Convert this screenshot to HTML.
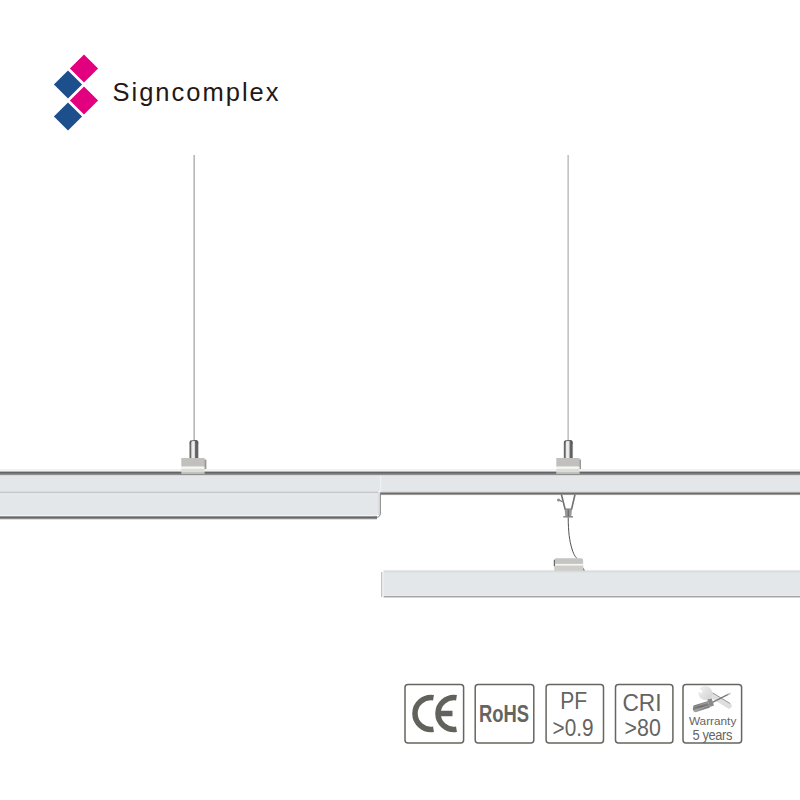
<!DOCTYPE html>
<html><head><meta charset="utf-8">
<style>
html,body{margin:0;padding:0;background:#fff;width:800px;height:800px;overflow:hidden}
svg{display:block;position:absolute;left:0;top:0}
text{font-family:"Liberation Sans",sans-serif}
</style></head>
<body>
<svg width="800" height="800" viewBox="0 0 800 800">
<defs>
  <linearGradient id="barR" gradientUnits="userSpaceOnUse" x1="0" y1="469" x2="0" y2="495">
    <stop offset="0" stop-color="#f3f4f5"/>
    <stop offset="0.08" stop-color="#eceef0"/>
    <stop offset="0.12" stop-color="#8e8e8e"/>
    <stop offset="0.16" stop-color="#5c5c5c"/>
    <stop offset="0.21" stop-color="#8a8a8a"/>
    <stop offset="0.25" stop-color="#e3e5e7"/>
    <stop offset="0.86" stop-color="#e5e7e9"/>
    <stop offset="0.9" stop-color="#eff0f1"/>
    <stop offset="0.94" stop-color="#6e6e6e"/>
    <stop offset="1" stop-color="#a6a6a6"/>
  </linearGradient>
  <linearGradient id="barL" gradientUnits="userSpaceOnUse" x1="0" y1="469" x2="0" y2="518.5">
    <stop offset="0" stop-color="#f3f4f5"/>
    <stop offset="0.04" stop-color="#eceef0"/>
    <stop offset="0.06" stop-color="#8e8e8e"/>
    <stop offset="0.08" stop-color="#5c5c5c"/>
    <stop offset="0.11" stop-color="#8a8a8a"/>
    <stop offset="0.13" stop-color="#e3e5e7"/>
    <stop offset="0.445" stop-color="#e5e7e9"/>
    <stop offset="0.46" stop-color="#c9cacc"/>
    <stop offset="0.47" stop-color="#cdced0"/>
    <stop offset="0.485" stop-color="#e4e6e8"/>
    <stop offset="0.93" stop-color="#e5e7e9"/>
    <stop offset="0.945" stop-color="#eff0f1"/>
    <stop offset="0.97" stop-color="#6a6a6a"/>
    <stop offset="1" stop-color="#b0b0b0"/>
  </linearGradient>
  <linearGradient id="bar2" gradientUnits="userSpaceOnUse" x1="0" y1="570" x2="0" y2="597.8">
    <stop offset="0" stop-color="#e6e7e9"/>
    <stop offset="0.05" stop-color="#d9dadd"/>
    <stop offset="0.09" stop-color="#e4e6e9"/>
    <stop offset="0.9" stop-color="#e5e7ea"/>
    <stop offset="0.93" stop-color="#eceef0"/>
    <stop offset="0.96" stop-color="#a4a5a7"/>
    <stop offset="1" stop-color="#c8c9ca"/>
  </linearGradient>
  <linearGradient id="cyl" x1="0" y1="0" x2="1" y2="0">
    <stop offset="0" stop-color="#9a9a9a"/>
    <stop offset="0.1" stop-color="#5c5c5c"/>
    <stop offset="0.2" stop-color="#8e8e8e"/>
    <stop offset="0.26" stop-color="#e6e6e4"/>
    <stop offset="0.48" stop-color="#f2f2f0"/>
    <stop offset="0.6" stop-color="#c6c6c4"/>
    <stop offset="0.66" stop-color="#6c6c6c"/>
    <stop offset="0.86" stop-color="#5a5a5a"/>
    <stop offset="0.95" stop-color="#a0a0a0"/>
    <stop offset="1" stop-color="#c8c8c8"/>
  </linearGradient>
</defs>

<!-- logo -->
<polygon points="84,54.4 98.1,68.5 84,82.6 69.9,68.5" fill="#e3007f"/>
<polygon points="68,70.4 82.1,84.5 68,98.6 53.9,84.5" fill="#1c4f8b"/>
<polygon points="84,86.4 98.1,100.5 84,114.6 69.9,100.5" fill="#e3007f"/>
<polygon points="68,102.4 82.1,116.5 68,130.6 53.9,116.5" fill="#1c4f8b"/>
<text x="112.5" y="100.8" font-size="25.5" fill="#231815" letter-spacing="2.0">Signcomplex</text>

<!-- wires -->
<rect x="193" y="155" width="1" height="286" fill="#d2d2d2"/><rect x="194" y="155" width="1" height="286" fill="#b8b8b8"/>
<rect x="567" y="155" width="1" height="286" fill="#d8d8d8"/><rect x="568" y="155" width="1" height="286" fill="#c4c4c4"/>

<!-- top bar -->
<rect x="0" y="469" width="800" height="1" fill="#eff0f2"/>
<rect x="0" y="470" width="800" height="1" fill="#f3f4f6"/>
<rect x="0" y="471" width="800" height="1" fill="#b8b8b9"/>
<rect x="0" y="472" width="800" height="1" fill="#646464"/>
<rect x="0" y="473" width="800" height="1" fill="#797979"/>
<rect x="0" y="474" width="800" height="1" fill="#8e8e8e"/>
<rect x="0" y="475" width="800" height="1" fill="#d8d9dc"/>
<rect x="0" y="476" width="800" height="15" fill="#e3e7ea"/>
<rect x="380" y="491" width="420" height="1" fill="#dcdcdf"/>
<rect x="380" y="492" width="420" height="1" fill="#a4a4a4"/>
<rect x="380" y="493" width="420" height="1" fill="#6b6b6b"/>
<rect x="380" y="494" width="420" height="1" fill="#999999"/>
<rect x="380" y="495" width="420" height="1" fill="#f8f8f8"/>
<rect x="0" y="490" width="378.5" height="1" fill="#e4e7ea"/>
<rect x="0" y="491" width="378.5" height="1" fill="#d9dadc"/>
<rect x="0" y="492" width="378.5" height="1" fill="#c8c8ca"/>
<rect x="0" y="493" width="378.5" height="1" fill="#e2e4e7"/>
<rect x="0" y="494" width="378.5" height="1" fill="#e6e9ec"/>
<rect x="0" y="514" width="378.5" height="1" fill="#e6e9ec"/>
<rect x="0" y="515" width="377" height="1" fill="#f1f2f5"/>
<rect x="0" y="516" width="377" height="1" fill="#9a9a9a"/>
<rect x="0" y="517" width="377" height="1" fill="#646464"/>
<rect x="0" y="518" width="377" height="1" fill="#8e8e8e"/>
<rect x="0" y="519" width="377" height="1" fill="#e0e0e0"/>
<rect x="0" y="495" width="378.5" height="19" fill="#e3e7ea"/>
<rect x="0" y="490" width="378.5" height="1" fill="#e4e7ea"/>
<rect x="380.2" y="475.5" width="1" height="16" fill="#f2f3f5"/>
<rect x="378" y="492" width="2.2" height="23" fill="#dcdde0"/>

<path d="M376,517.4 Q380.4,517.4 380.4,513 V494" stroke="#8a8a8a" stroke-width="1" fill="none"/><path d="M374,517.4 H377" stroke="#707070" stroke-width="1.6"/>

<!-- clamps on top bar -->
<g id="clamp1">
  <path d="M189.3,458 V443.2 Q189.3,440 192.5,440 H195.5 Q198.7,440 198.7,443.2 V458 Z" fill="url(#cyl)"/><path d="M190,443.5 Q190.3,440.6 192.6,440.6 H195.4 Q197.8,440.6 198,443.5" stroke="#555" stroke-width="0.9" fill="none"/>
  <rect x="204" y="459.5" width="2.4" height="9.5" fill="#9a9996"/>
  <rect x="181.3" y="458" width="23.3" height="8.7" fill="#c1c0bc"/>
  <rect x="181.3" y="466.7" width="23.3" height="2.1" fill="#f6f6f4"/>
  <rect x="181.3" y="468.8" width="23.3" height="4" fill="#dcdcd8"/>
  <rect x="181.3" y="472.8" width="23.3" height="1.2" fill="#bdbdb9"/>
</g>
<g>
  <path d="M563.7,458 V443.2 Q563.7,440 566.9,440 H569.9 Q573.1,440 573.1,443.2 V458 Z" fill="url(#cyl)"/><path d="M564.4,443.5 Q564.7,440.6 567,440.6 H569.8 Q572.2,440.6 572.4,443.5" stroke="#555" stroke-width="0.9" fill="none"/>
  <rect x="578.6" y="459.5" width="2.4" height="9.5" fill="#9a9996"/>
  <rect x="556.3" y="458" width="23.3" height="8.7" fill="#c1c0bc"/>
  <rect x="556.3" y="466.7" width="23.3" height="2.1" fill="#f6f6f4"/>
  <rect x="556.3" y="468.8" width="23.3" height="4" fill="#dcdcd8"/>
  <rect x="556.3" y="472.8" width="23.3" height="1.2" fill="#bdbdb9"/>
</g>

<!-- V bracket + wire -->
<path d="M561.4,494.5 L565.2,509.5 M575,494.5 L571.5,509.5" stroke="#727272" stroke-width="1.6" fill="none"/>
<path d="M562.4,501.8 L559.5,500.2" stroke="#777" stroke-width="1.3" fill="none"/><circle cx="558.6" cy="500" r="1.6" fill="#8e8e8e"/>
<path d="M564.6,508.8 H572 L571.3,516.5 H565.3 Z" fill="#999"/><rect x="567.6" y="510" width="1.5" height="7" fill="#707070"/><path d="M564.6,509 H572" stroke="#777" stroke-width="0.8"/>
<rect x="563.3" y="516.2" width="9.7" height="1.3" fill="#7a7a7a"/>
<path d="M568.2,517.5 C568.3,532 569.5,541 572,549 S575.5,556 576.8,558.5" stroke="#3c3c3c" stroke-width="0.9" fill="none"/>

<!-- lower bar -->
<rect x="383.5" y="569" width="416.5" height="1" fill="#fbfbfb"/>
<rect x="383.5" y="570" width="416.5" height="1" fill="#ebebed"/>
<rect x="383.5" y="571" width="416.5" height="1" fill="#d8dadd"/>
<rect x="383.5" y="572" width="416.5" height="1" fill="#e0e3e6"/>
<rect x="383.5" y="595" width="416.5" height="1" fill="#eaebee"/>
<rect x="383.5" y="596" width="416.5" height="1" fill="#a3a4a7"/>
<rect x="383.5" y="597" width="416.5" height="1" fill="#d5d5d6"/>
<rect x="383.5" y="573" width="416.5" height="22" fill="#e3e7ea"/>
<rect x="381" y="572" width="2.8" height="25" fill="#e9eaec"/>
<rect x="381" y="572" width="0.8" height="25" fill="#b9babc"/>

<!-- lower clamp -->
<path d="M554.5,570.6 V560 Q554.5,558.3 556.2,558.3 H581.4 Q583.1,558.3 583.1,560 V570.6 Z" fill="#c4c4c2"/>
<rect x="554.5" y="563.9" width="28.6" height="1.9" fill="#f6f6f5"/>
<rect x="554.5" y="565.8" width="28.6" height="4.8" fill="#cfcdca"/>
<path d="M583.1,567.5 L585,570.6 H583.1 Z" fill="#7a7a7a"/>
<rect x="553.8" y="559.8" width="1.1" height="6.4" fill="#5a5a5a"/>
<!-- badges -->
<g fill="none" stroke="#66655f" stroke-width="1.5">
  <rect x="405" y="684.6" width="58.6" height="58.4" rx="3"/>
  <rect x="475.2" y="684.6" width="58.6" height="58.4" rx="3"/>
  <rect x="546.1" y="684.6" width="57.4" height="58.4" rx="3"/>
  <rect x="615.5" y="684.6" width="57.4" height="58.4" rx="3"/>
  <rect x="683" y="684.6" width="58.6" height="58.4" rx="3"/>
</g>
<!-- CE -->
<g fill="none" stroke="#62625c" stroke-width="5.5">
  <path d="M433.5,697.7 A16,16 0 1 0 433.5,729.3"/>
  <path d="M456.5,697.7 A16,16 0 1 0 456.5,729.3"/>
  <path d="M440,713.5 H452.5"/>
</g>
<g fill="#65645f">
<text id="t_rohs" x="504" y="722" font-size="23" font-weight="bold" text-anchor="middle" transform="translate(504 0) scale(0.8 1) translate(-504 0)">RoHS</text>
<text id="t_pf" x="573.7" y="708.9" font-size="24" text-anchor="middle" transform="translate(573.7 0) scale(0.88 1) translate(-573.7 0)">PF</text>
<text id="t_pf2" x="573" y="736" font-size="24" text-anchor="middle" transform="translate(573 0) scale(0.865 1) translate(-573 0)">&gt;0.9</text>
<text id="t_cri" x="642" y="710.9" font-size="24" text-anchor="middle" transform="translate(642 0) scale(0.945 1) translate(-642 0)">CRI</text>
<text id="t_cri2" x="642.7" y="736" font-size="24" text-anchor="middle" transform="translate(642.7 0) scale(0.89 1) translate(-642.7 0)">&gt;80</text>
<text id="t_w1" x="712.6" y="724.9" font-size="11.8" text-anchor="middle">Warranty</text>
<text id="t_w2" x="712.3" y="740.25" font-size="14" text-anchor="middle" letter-spacing="-0.4" transform="translate(712.3 0) scale(0.92 1) translate(-712.3 0)">5 years</text>
</g>
<!-- tools -->
<defs>
  <linearGradient id="wr" x1="0" y1="0" x2="1" y2="1">
    <stop offset="0" stop-color="#f4f4f4"/>
    <stop offset="1" stop-color="#d0d0d0"/>
  </linearGradient>
  <linearGradient id="sd" x1="0" y1="0" x2="0" y2="1">
    <stop offset="0" stop-color="#9a9a9a"/>
    <stop offset="0.5" stop-color="#6e6e6e"/>
    <stop offset="1" stop-color="#a8a8a8"/>
  </linearGradient>
</defs>
<g>
  <path d="M712,695.5 L729.2,706" stroke="#dedede" stroke-width="5.2" stroke-linecap="round"/>
  <path d="M712.5,692.8 L730.2,703.6" stroke="#8c8c8c" stroke-width="0.9"/>
  <circle cx="705.3" cy="693" r="7" fill="url(#wr)"/>
  <path d="M697.5,689.5 L702,692" stroke="#fff" stroke-width="3"/>
  <path d="M711.5,702.8 L728.2,694.4" stroke="#7a7a7a" stroke-width="1.5" stroke-linecap="round"/>
  <path d="M728.2,694.4 L730,693.6" stroke="#bdbdbd" stroke-width="1.5" stroke-linecap="round"/>
  <path d="M693.6,705.6 L707.8,701 L709.9,707.6 L695.8,712.3 Q693,712 692.8,709 Z" fill="url(#sd)"/>
  <path d="M707.3,699.6 L711.6,698.2 L714,705.6 L709.7,707 Z" fill="#8a8a8a"/>
  <path d="M694.5,710.5 L708.5,705.8" stroke="#b5b5b5" stroke-width="0.8"/>
  <path d="M694,707 L708,702.4" stroke="#a5a5a5" stroke-width="0.7"/>
</g>
</svg>
</body></html>
